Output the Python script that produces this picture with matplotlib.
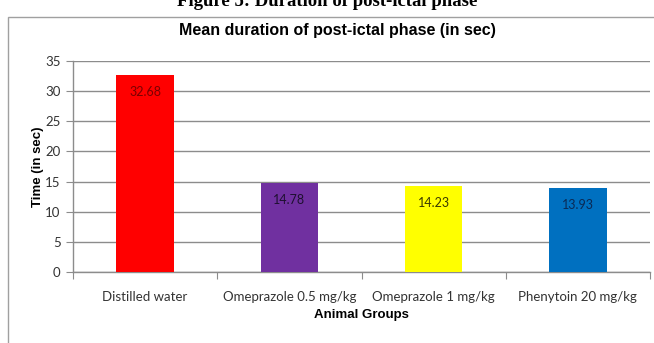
import matplotlib
matplotlib.use("Agg")
import matplotlib.pyplot as plt
from matplotlib.patches import Rectangle

categories = ["Distilled water", "Omeprazole 0.5 mg/kg", "Omeprazole 1 mg/kg", "Phenytoin 20 mg/kg"]
values = [32.68, 14.78, 14.23, 13.93]
value_labels = ["32.68", "14.78", "14.23", "13.93"]
bar_colors = ["#FF0000", "#7030A0", "#FFFF00", "#0070C0"]
label_colors = ["#7a0000", "#1e1030", "#3a3a00", "#0a2a55"]
yticks = [0, 5, 10, 15, 20, 25, 30, 35]

W, H = 654, 343
fig = plt.figure(figsize=(W/100, H/100), dpi=100)
fig.patch.set_facecolor("white")

narrow = ["Liberation Sans Narrow", "Liberation Sans", "DejaVu Sans"]
body = ["Lato", "DejaVu Sans"]

# chart frame border
fig.patches.append(Rectangle((8/W, -0.1), 1.2, 1 - 17/H + 0.1, transform=fig.transFigure,
                             fill=False, edgecolor="#a0a0a0", linewidth=1.0))

# cropped figure caption at top (cut off at the image edge, as in the source)
fig.text(0.5, 1 - 2/H, "Figure 5: Duration of post-ictal phase", ha="center", va="center",
         family=["Liberation Serif", "DejaVu Serif"], fontweight="bold", fontsize=13.5)

left, right = 73/W, 650/W
bottom, top = 1 - 272/H, 1 - 61/H
ax = fig.add_axes([left, bottom, right - left, top - bottom])

x = list(range(len(categories)))
ax.bar(x, values, width=0.4, color=bar_colors, zorder=3)
ax.set_xlim(-0.5, len(categories) - 0.5)
ax.set_ylim(0, 35)
ax.set_yticks(yticks)
ax.set_yticklabels([str(t) for t in yticks], family=body, fontsize=9.5, color="#333333")
ax.yaxis.grid(True, color="#8c8c8c", linewidth=1.0, zorder=0)
ax.set_axisbelow(True)

ax.set_xticks([i - 0.5 for i in range(len(categories) + 1)])
ax.set_xticklabels([])
ax.set_xticks(x, minor=True)
ax.set_xticklabels(categories, minor=True, family=body, fontsize=9.5, color="#333333")
ax.tick_params(axis="x", which="minor", length=0, pad=14)
ax.tick_params(axis="x", which="major", length=5, color="#8c8c8c", direction="out")
ax.tick_params(axis="y", length=5, color="#8c8c8c", direction="out", pad=4)

for s in ["top", "right"]:
    ax.spines[s].set_visible(False)
for s in ["left", "bottom"]:
    ax.spines[s].set_color("#8c8c8c")
    ax.spines[s].set_linewidth(1.0)

for xi, v, lab, c in zip(x, values, value_labels, label_colors):
    ax.annotate(lab, (xi, v), xytext=(0, -12), textcoords="offset points",
                ha="center", va="center", family=body, fontsize=9, color=c, zorder=4)

ax.set_xlabel("Animal Groups", family=narrow, fontweight="bold", fontsize=9.5, labelpad=4)
ax.set_ylabel("Time (in sec)", family=narrow, fontweight="bold", fontsize=9.5, labelpad=1)

fig.text(337/W, 1 - 31/H, "Mean duration of post-ictal phase (in sec)", ha="center", va="center",
         family=narrow, fontweight="bold", fontsize=11.5)

fig.savefig("out.png", dpi=100)
